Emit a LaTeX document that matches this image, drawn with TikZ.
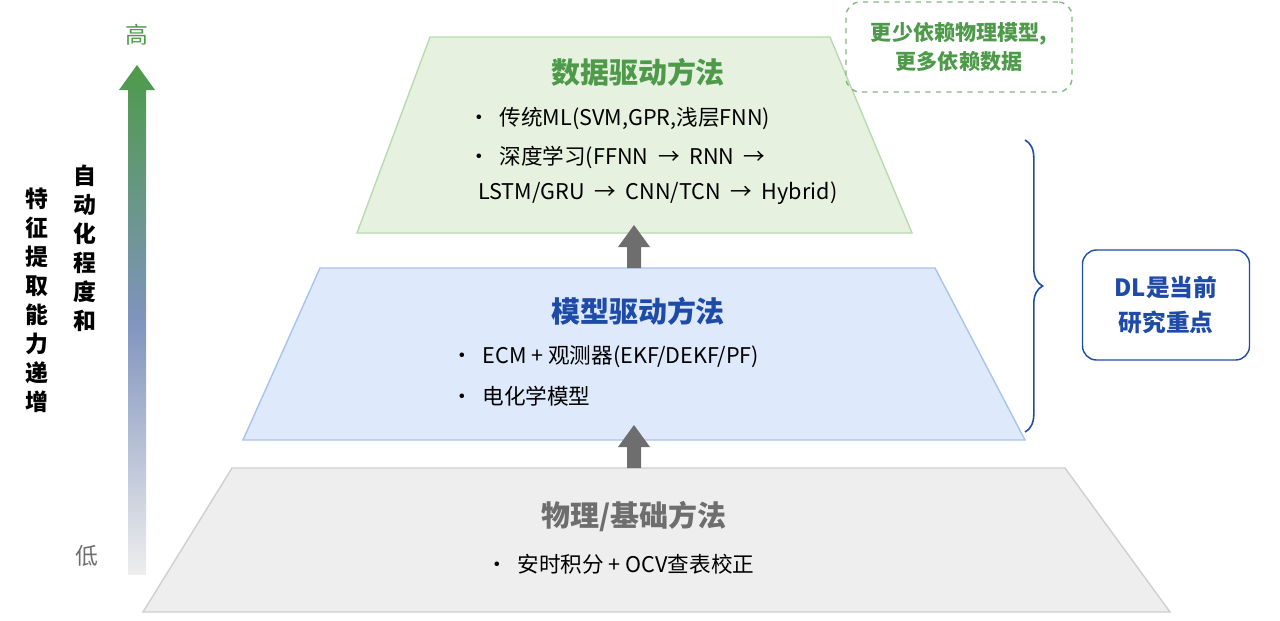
\documentclass[tikz,border=0pt]{standalone}
\usepackage{fontspec}
\setmainfont{Noto Sans CJK SC}
\usetikzlibrary{decorations.pathreplacing}
\definecolor{grnD}{HTML}{4E9A4A}
\definecolor{grnF}{HTML}{E6F2DF}
\definecolor{grnL}{HTML}{B9DAB0}
\definecolor{bluD}{HTML}{1F4BA8}
\definecolor{bluF}{HTML}{DEE9FB}
\definecolor{bluL}{HTML}{A9C3EE}
\definecolor{gryF}{HTML}{EEEEEE}
\definecolor{gryL}{HTML}{CFCFCF}
\definecolor{gryD}{HTML}{6E6E6E}
\tikzset{
  layer/.style={line width=0.8pt},
  title/.style={font=\fontsize{16.5}{18}\selectfont\bfseries},
  item/.style={font=\fontsize{12.3}{14}\selectfont, align=left, anchor=west},
  uparrow/.style={fill=gryD, draw=none},
  vtext/.style={font=\fontsize{13}{16.5}\selectfont\bfseries, align=center}
}
\begin{document}
\begin{tikzpicture}[x=0.02cm, y=-0.02cm]
  \useasboundingbox (0,0) rectangle (1280,620);

  % layers
  \draw[layer, fill=gryF, draw=gryL] (232,468) -- (1065,468) -- (1170,612) -- (143,612) -- cycle;
  \draw[layer, fill=bluF, draw=bluL] (320,268) -- (935,268) -- (1025,440) -- (243,440) -- cycle;
  \draw[layer, fill=grnF, draw=grnL] (430,37) -- (830,37) -- (912,233) -- (357,233) -- cycle;

  % top layer
  \node[title, text=grnD] (t1) at (638,72) {数据驱动方法};
  \node[item] (a1) at (462,118) {•\ \ 传统ML(SVM,GPR,浅层FNN)};
  \node[item] (a2) at (462,157) {•\ \ 深度学习(FFNN\ \ →\ \ RNN\ \ →};
  \node[item] (a3) at (472,193) {LSTM/GRU\ \ →\ \ CNN/TCN\ \ →\ \ Hybrid)};

  % middle layer
  \node[title, text=bluD] (t2) at (638,311) {模型驱动方法};
  \node[item] (b1) at (445,357) {•\ \ ECM + 观测器(EKF/DEKF/PF)};
  \node[item] (b2) at (445,396) {•\ \ 电化学模型};

  % bottom layer
  \node[title, text=gryD] (t3) at (634,516) {物理/基础方法};
  \node[item] (c1) at (480,564) {•\ \ 安时积分 + OCV查表校正};

  % arrows between layers
  \draw[uparrow] (627,268) -- (627,247) -- (618,247) -- (634,225) -- (650,247) -- (641,247) -- (641,268) -- cycle;
  \draw[uparrow] (627,468) -- (627,447) -- (618,447) -- (634,425) -- (650,447) -- (641,447) -- (641,468) -- cycle;

  % left gradient arrow
  \shade[top color=grnD, bottom color=gryF, middle color=bluD!45!gryL]
    (128,575) -- (128,90) -- (119,90) -- (137,65) -- (155,90) -- (146,90) -- (146,575) -- cycle;
  \node[font=\fontsize{13}{14}\selectfont, text=grnD] (hi) at (137,35) {高};
  \node[font=\fontsize{13}{14}\selectfont, text=gryD] (lo) at (87,556) {低};
  \node[vtext, text width=15pt] (v1) at (85,248) {自\\动\\化\\程\\度\\和};
  \node[vtext, text width=15pt] (v2) at (37,300) {特\\征\\提\\取\\能\\力\\递\\增};

  % note box
  \node[draw=grnD!70, dashed, rounded corners=8pt, line width=0.8pt, text=grnD,
        font=\fontsize{12}{17}\selectfont\bfseries, align=center,
        minimum width=226*0.02cm, minimum height=90*0.02cm] (note) at (959,47)
        {更少依赖物理模型,\\更多依赖数据};

  % brace and DL box
  \draw[bluD, line width=0.9pt, decorate, decoration={brace, amplitude=10pt}]
    (1025,140) -- (1025,432);
  \node[draw=bluD, rounded corners=8pt, line width=0.8pt, text=bluD,
        font=\fontsize{13.5}{20}\selectfont\bfseries, align=center,
        minimum width=167*0.02cm, minimum height=110*0.02cm] (dl) at (1166,305)
        {DL是当前\\研究重点};
\end{tikzpicture}
\end{document}
